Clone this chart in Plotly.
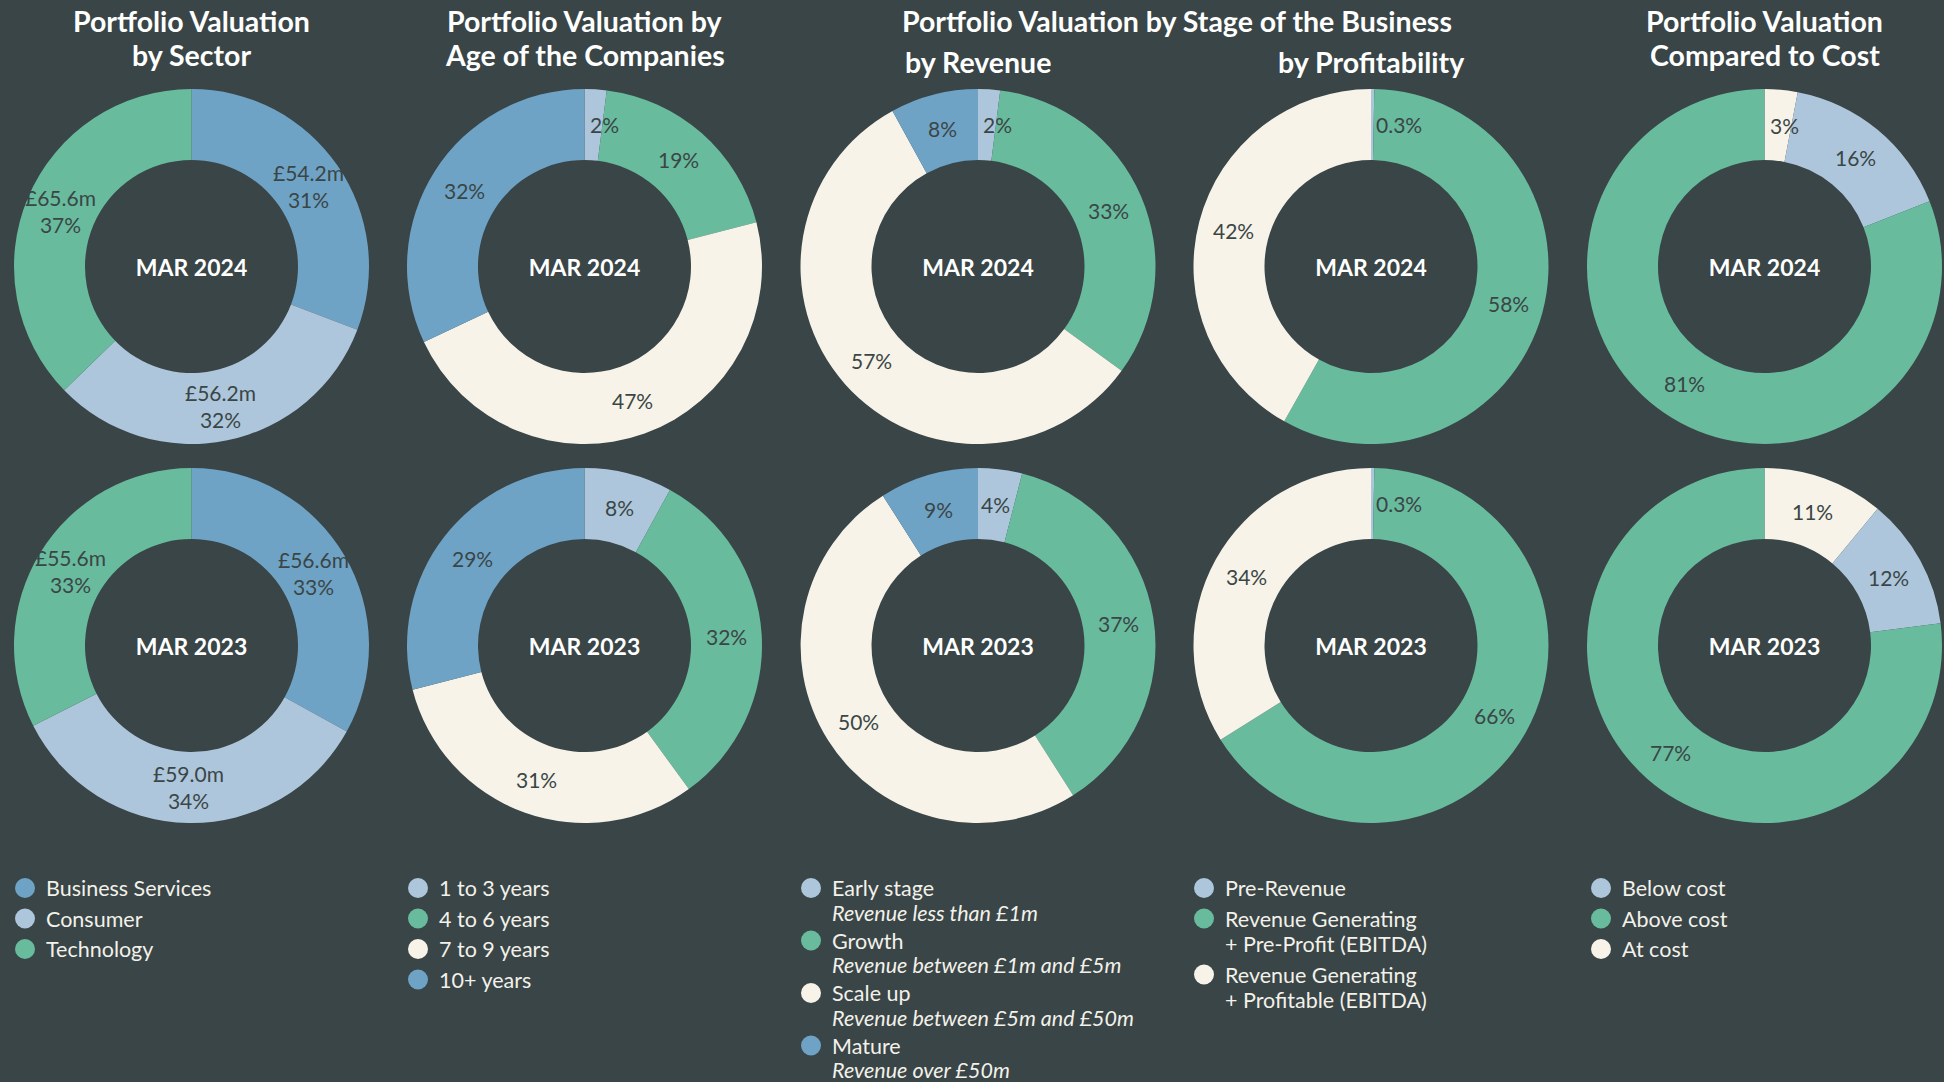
import math
import plotly.graph_objects as go

# ---------------- data ----------------
years = ["MAR 2024", "MAR 2023"]

sector_labels = ["Business Services", "Consumer", "Technology"]
sector_2024 = [54.2, 56.2, 65.6]
sector_2023 = [56.6, 59.0, 55.6]
sector_pct_2024 = [31, 32, 37]
sector_pct_2023 = [33, 34, 33]

age_labels = ["1 to 3 years", "4 to 6 years", "7 to 9 years", "10+ years"]
age_2024 = [2, 19, 47, 32]
age_2023 = [8, 32, 31, 29]

rev_labels = ["Early stage", "Growth", "Scale up", "Mature"]
rev_notes = ["Revenue less than £1m", "Revenue between £1m and £5m",
             "Revenue between £5m and £50m", "Revenue over £50m"]
rev_2024 = [2, 33, 57, 8]
rev_2023 = [4, 37, 50, 9]

prof_labels = ["Pre-Revenue", "Revenue Generating", "Revenue Generating"]
prof_notes = [None, "+ Pre-Profit (EBITDA)", "+ Profitable (EBITDA)"]
prof_2024 = [0.3, 58, 42]
prof_2023 = [0.3, 66, 34]

cost_labels = ["At cost", "Below cost", "Above cost"]      # slice order (clockwise from top)
cost_2024 = [3, 16, 81]
cost_2023 = [11, 12, 77]
cost_legend_order = ["Below cost", "Above cost", "At cost"]

# ---------------- style ----------------
W, H = 1944, 1082
BG = "#394546"
DARK = "#3a4646"
LIGHT = "#f3f1ea"
BLUE, LBLUE, GREEN, CREAM = "#6fa3c6", "#aec6dc", "#69bb9e", "#f7f3e9"
FONT = "Lato"

sector_colors = [BLUE, LBLUE, GREEN]
age_colors = [LBLUE, GREEN, CREAM, BLUE]
rev_colors = [LBLUE, GREEN, CREAM, BLUE]
prof_colors = [LBLUE, GREEN, CREAM]
cost_colors = {"At cost": CREAM, "Below cost": LBLUE, "Above cost": GREEN}

col_cx = [191.5, 584.5, 978, 1371, 1764.5]
row_cy = [266.5, 645.5]
R = 177.5
HOLE = 0.6
R_LABEL = R * (1 + HOLE) / 2

fig = go.Figure()


def px(x, y):
    return x / W, 1 - y / H


def pct_txt(v):
    return f"{v:g}%"


def add_pie(col, row, labels, values, colors, texts):
    cx, cy = col_cx[col], row_cy[row]
    fig.add_trace(go.Pie(
        labels=labels, values=values,
        marker=dict(colors=colors, line=dict(width=0)),
        hole=HOLE, sort=False, direction="clockwise", rotation=0,
        textinfo="none", showlegend=False, hoverinfo="label+percent",
        domain=dict(x=[(cx - R) / W, (cx + R) / W],
                    y=[1 - (cy + R) / H, 1 - (cy - R) / H]),
        title=dict(text=years[row], position="middle center",
                   font=dict(color="white", size=23, family=FONT, weight="bold")),
    ))
    # slice labels at the middle of each slice (derived from the values)
    total = sum(values)
    cum = 0.0
    for v, t in zip(values, texts):
        mid = (cum + v / 2) / total * 2 * math.pi
        cum += v
        lx = cx + R_LABEL * math.sin(mid)
        ly = cy - R_LABEL * math.cos(mid)
        anchor = "center"
        if R_LABEL * math.sin(mid) < 15 and mid < math.pi / 2:
            lx, anchor = cx + 3, "left"
        x, y = px(lx, ly)
        fig.add_annotation(text=t, x=x, y=y, xref="paper", yref="paper",
                           xanchor=anchor, yanchor="middle", showarrow=False,
                           align="center",
                           font=dict(color=DARK, size=21, family=FONT))


for r, (sv, sp) in enumerate([(sector_2024, sector_pct_2024), (sector_2023, sector_pct_2023)]):
    add_pie(0, r, sector_labels, sv, sector_colors,
            [f"£{v:.1f}m<br>{p}%" for v, p in zip(sv, sp)])
for r, vals in enumerate([age_2024, age_2023]):
    add_pie(1, r, age_labels, vals, age_colors, [pct_txt(v) for v in vals])
for r, vals in enumerate([rev_2024, rev_2023]):
    add_pie(2, r, rev_labels, vals, rev_colors, [pct_txt(v) for v in vals])
prof_full = [l if n is None else f"{l} {n}" for l, n in zip(prof_labels, prof_notes)]
for r, vals in enumerate([prof_2024, prof_2023]):
    add_pie(3, r, prof_full, vals, prof_colors, [pct_txt(v) for v in vals])
for r, vals in enumerate([cost_2024, cost_2023]):
    add_pie(4, r, cost_labels, vals, [cost_colors[l] for l in cost_labels],
            [pct_txt(v) for v in vals])

# ---------------- legends ----------------
legend_sets = [
    (sector_labels, [None] * 3, sector_colors, False),
    (age_labels, [None] * 4, age_colors, False),
    (rev_labels, rev_notes, rev_colors, True),
    (prof_labels, prof_notes, prof_colors, False),
    (cost_legend_order, [None] * 3, [cost_colors[l] for l in cost_legend_order], False),
]
legend_marker_x = [25, 418, 811, 1204, 1601]
LEG_TOP = 888
LEG_STEP = 30.5
LEG_DOT = 20
LEG_FONT = 21.5

for i, (names, notes, cols, italic) in enumerate(legend_sets):
    mx = legend_marker_x[i]
    y = LEG_TOP
    sub_gap, after_gap = (24.5, 28) if italic else (25.5, 30.5)
    for n, note, c in zip(names, notes, cols):
        x0, y0 = px(mx - LEG_DOT / 2, y + LEG_DOT / 2)
        x1, y1 = px(mx + LEG_DOT / 2, y - LEG_DOT / 2)
        fig.add_shape(type="circle", xref="paper", yref="paper",
                      x0=x0, x1=x1, y0=y0, y1=y1, fillcolor=c, line=dict(width=0))
        tx, ty = px(mx + 18.5, y)
        fig.add_annotation(text=n, x=tx, y=ty, xref="paper", yref="paper",
                           xanchor="left", yanchor="middle", showarrow=False,
                           font=dict(color=LIGHT, size=LEG_FONT, family=FONT))
        step = LEG_STEP
        if note:
            sx, sy = px(mx + 18.5, y + sub_gap)
            fig.add_annotation(text=f"<i>{note}</i>" if italic else note,
                               x=sx, y=sy, xref="paper", yref="paper",
                               xanchor="left", yanchor="middle", showarrow=False,
                               font=dict(color=LIGHT, size=LEG_FONT, family=FONT))
            step = sub_gap + after_gap
        y += step

# ---------------- titles ----------------
title_font = dict(color="white", size=28.5, family=FONT, weight="bold")
titles = [
    ("Portfolio Valuation", col_cx[0], 21),
    ("by Sector", col_cx[0], 55),
    ("Portfolio Valuation by", col_cx[1], 21),
    ("Age of the Companies", col_cx[1], 55),
    ("Portfolio Valuation by Stage of the Business", (col_cx[2] + col_cx[3]) / 2 + 2, 21),
    ("by Revenue", col_cx[2], 62),
    ("by Profitability", col_cx[3], 62),
    ("Portfolio Valuation", col_cx[4], 21),
    ("Compared to Cost", col_cx[4], 55),
]
for txt, x, y in titles:
    ax, ay = px(x, y)
    fig.add_annotation(text=txt, x=ax, y=ay, xref="paper", yref="paper",
                       xanchor="center", yanchor="middle", showarrow=False,
                       font=title_font, align="center")

fig.update_layout(
    width=W, height=H,
    margin=dict(l=0, r=0, t=0, b=0),
    paper_bgcolor=BG, plot_bgcolor=BG,
    font=dict(family=FONT, color=LIGHT),
    showlegend=False,
)

fig.write_html("out.html", config={"displayModeBar": False},
               post_script="document.body.style.margin='0';document.body.style.background='%s';document.body.style.overflow='hidden';" % BG)
